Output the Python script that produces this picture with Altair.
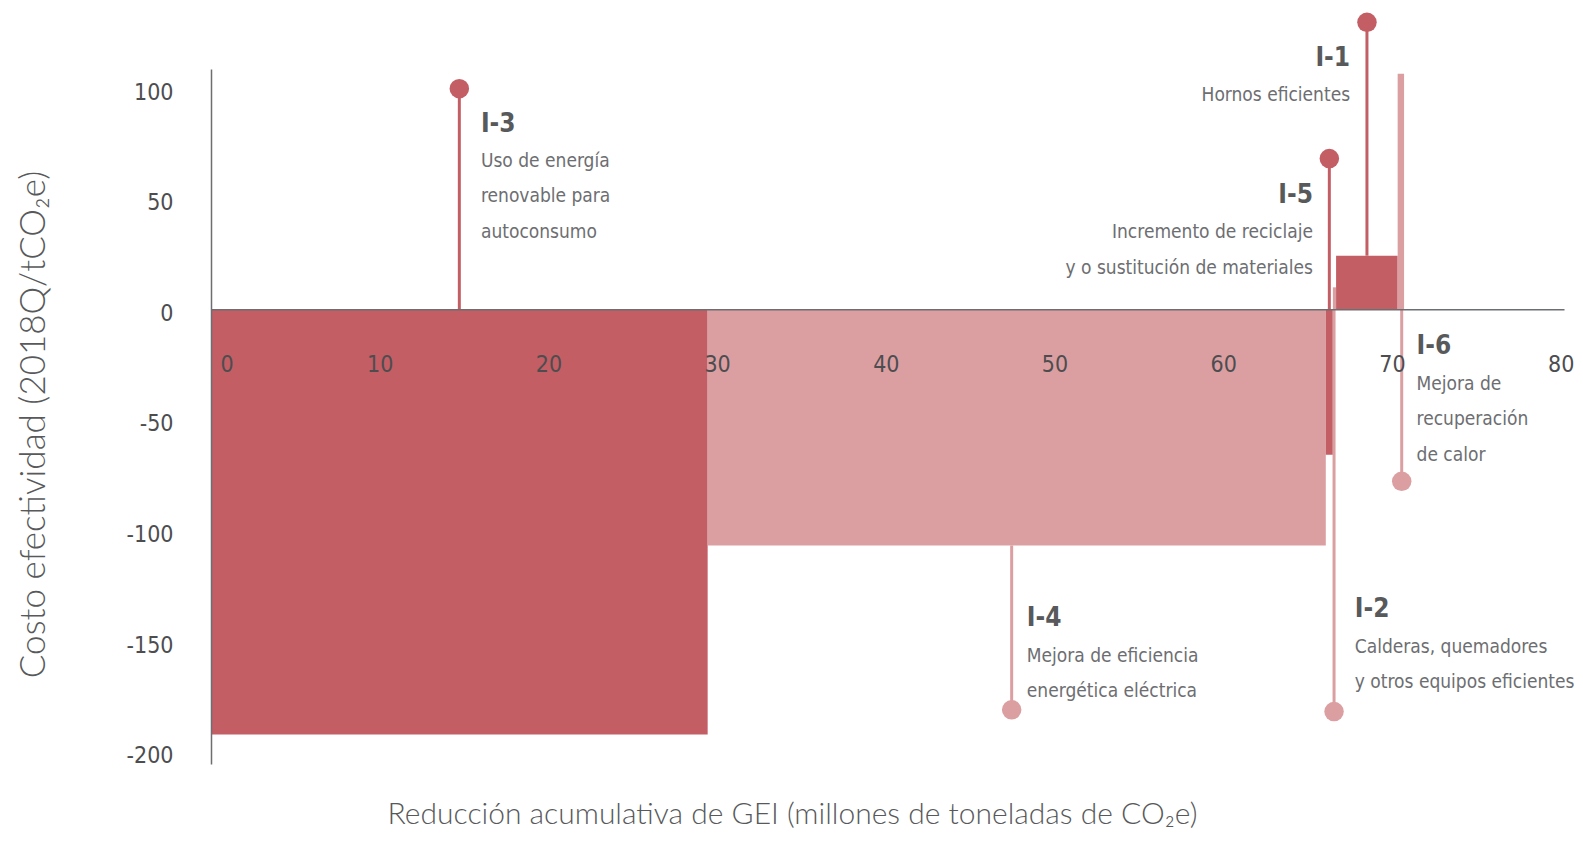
import altair as alt
import pandas as pd

# ---- data ----
codes = ["I-3", "I-4", "I-5", "I-2", "I-1", "I-6"]
x_start = [0.0, 29.44, 66.08, 66.50, 66.69, 70.34]
x_end = [29.44, 66.08, 66.50, 66.69, 70.34, 70.72]
cost = [-192.3, -106.8, -65.8, 9.9, 24.2, 106.5]
shade = ["dark", "light", "dark", "light", "dark", "light"]

# lollipop markers: position, start and end value
stem_x = [14.72, 47.46, 66.29, 66.57, 68.52, 70.58]
stem_from = [0, -106.8, 0, 0, 24.2, 0]
stem_to = [99.7, -181.1, 68.1, -181.9, 129.7, -77.8]

# annotations
descs = [
    "Uso de energía\nrenovable para\nautoconsumo",
    "Mejora de eficiencia\nenergética eléctrica",
    "Incremento de reciclaje\ny o sustitución de materiales",
    "Calderas, quemadores\ny otros equipos eficientes",
    "Hornos eficientes",
    "Mejora de\nrecuperación\nde calor",
]
label_x = [16.0, 48.36, 65.32, 67.80, 67.52, 71.46]
code_y = [80.1, -143.4, 48.2, -139.3, 110.1, -20.4]
desc_y = [64.3, -159.4, 32.1, -155.4, 94.0, -36.4]
label_side = ["left", "left", "right", "left", "right", "left"]

x_ticks = [0, 10, 20, 30, 40, 50, 60, 70, 80]
y_ticks = [-200, -150, -100, -50, 0, 50, 100]

DARK = "#c35e65"
LIGHT = "#db9fa2"
TXT = "#6d6e71"
CODE = "#58595b"
AX = "#6d6e71"
NARROW = "DejaVu Sans Condensed, Liberation Sans Narrow, Roboto, sans-serif"
TITLEF = "Lato, Noto Sans, sans-serif"

bars = pd.DataFrame(dict(code=codes, x0=x_start, x1=x_end, cost=cost, shade=shade))
stems = pd.DataFrame(dict(code=codes, sx=stem_x, s0=stem_from, s1=stem_to, shade=shade))
labels = pd.DataFrame(dict(code=codes, lx=label_x, cy=code_y, dy=desc_y,
                           desc=descs, side=label_side))

xs = alt.Scale(domain=[0, 80.2], nice=False, zero=False)
ys = alt.Scale(domain=[-205.6, 108.6], nice=False, zero=False)
col = alt.Scale(domain=["dark", "light"], range=[DARK, LIGHT])

H = 695
W = 1353
zero_from_top = H * 108.6 / (108.6 + 205.6)

x_axis = alt.Axis(
    values=x_ticks, orient="bottom", offset=-(H - zero_from_top),
    ticks=False, grid=False, domainColor=AX, domainWidth=1.5,
    labelFont=NARROW, labelFontSize=23, labelColor="#4d4d4f",
    labelBaseline="middle", labelPadding=55,
    labelOffset={"condition": {"test": "datum.value === 0", "value": 9}, "value": 0},
    title="Reducción acumulativa de GEI (millones de toneladas de CO₂e)",
    titleFont=TITLEF, titleFontWeight=300, titleFontSize=30, titleColor="#58595b",
    titleX=581, titleY=505, titleBaseline="middle", titleAnchor="middle",
    zindex=1,
)
y_axis = alt.Axis(
    values=y_ticks, ticks=False, grid=False, domainColor=AX, domainWidth=1.5,
    labelFont=NARROW, labelFontSize=23, labelColor="#4d4d4f",
    labelPadding=38, labelBaseline="middle", labelOffset=4,
    labelExpr="replace(datum.label, '−', '-')",
    title="Costo efectividad (2018Q/tCO₂e)",
    titleFont=TITLEF, titleFontWeight=300, titleFontSize=35, titleColor="#58595b",
    titleX=-178, titleY=355, titleAngle=-90, titleBaseline="middle", titleAnchor="middle",
    zindex=1,
)

bar_layer = alt.Chart(bars).mark_rect().encode(
    x=alt.X("x0:Q", scale=xs, axis=x_axis),
    x2="x1:Q",
    y=alt.Y("cost:Q", scale=ys, axis=y_axis),
    y2=alt.datum(0),
    color=alt.Color("shade:N", scale=col, legend=None),
)

stem_layer = alt.Chart(stems).mark_rule(strokeWidth=3).encode(
    x="sx:Q", y="s0:Q", y2="s1:Q",
    color=alt.Color("shade:N", scale=col, legend=None),
)

dot_layer = alt.Chart(stems).mark_circle(size=380, opacity=1).encode(
    x="sx:Q", y="s1:Q",
    color=alt.Color("shade:N", scale=col, legend=None),
)

def text_layers(side):
    base = alt.Chart(labels).transform_filter(alt.datum.side == side)
    c = base.mark_text(align=side, baseline="alphabetic", font=NARROW,
                       fontSize=26, fontWeight="bold", color=CODE).encode(
        x="lx:Q", y="cy:Q", text="code:N")
    d = base.mark_text(align=side, baseline="alphabetic", font=NARROW,
                       fontSize=19, color=TXT, lineBreak="\n", lineHeight=35.5).encode(
        x="lx:Q", y="dy:Q", text="desc:N")
    return [c, d]

chart = alt.layer(
    bar_layer, stem_layer, dot_layer,
    *text_layers("left"), *text_layers("right"),
).properties(
    width=W, height=H,
    autosize=alt.AutoSizeParams(type="none"),
    padding={"left": 203, "top": 61, "right": 11, "bottom": 71},
    background="white",
).configure_view(stroke=None)

chart.save("out.html", embed_options={"renderer": "svg", "actions": False})
